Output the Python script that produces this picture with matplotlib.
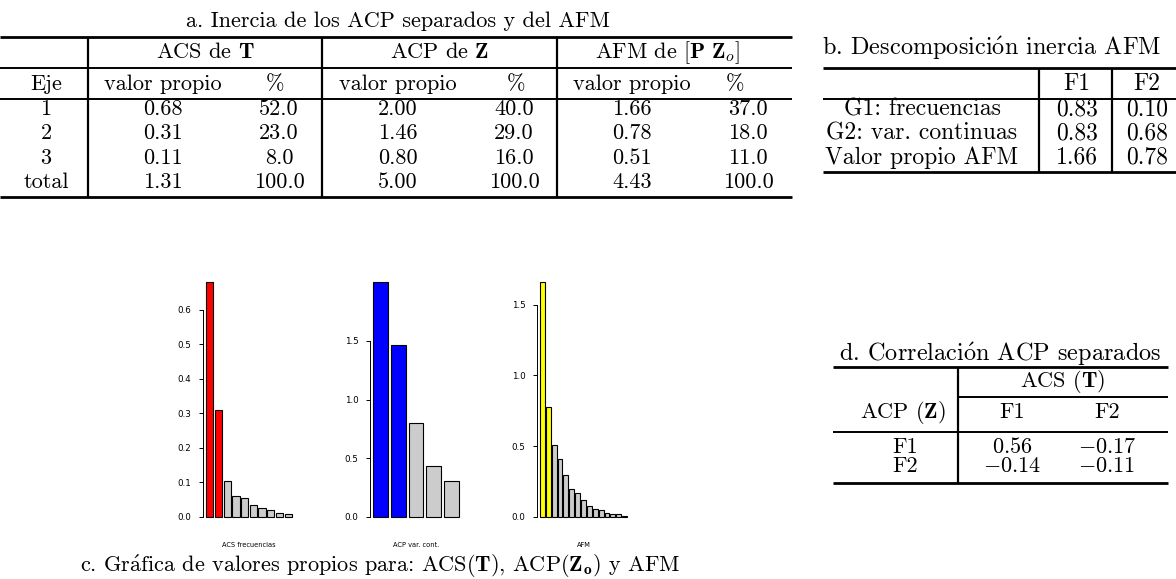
import numpy as np
import matplotlib.pyplot as plt

plt.rcParams['font.family'] = ['cmr10', 'DejaVu Serif']
plt.rcParams['mathtext.fontset'] = 'cm'
plt.rcParams['axes.unicode_minus'] = False

# a. inercia de los ACP separados y del AFM
ejes = ['1', '2', '3', 'total']
acs_vp = [0.68, 0.31, 0.11, 1.31]
acs_pct = [52.0, 23.0, 8.0, 100.0]
acp_vp = [2.00, 1.46, 0.80, 5.00]
acp_pct = [40.0, 29.0, 16.0, 100.0]
afm_vp = [1.66, 0.78, 0.51, 4.43]
afm_pct = [37.0, 18.0, 11.0, 100.0]

# b. descomposicion inercia AFM
grupos = ['G1: frecuencias', 'G2: var. continuas', 'Valor propio AFM']
desc_f1 = [0.83, 0.83, 1.66]
desc_f2 = [0.10, 0.68, 0.78]

# d. correlacion ACP separados
corr_filas = ['F1', 'F2']
corr_f1 = [0.56, -0.14]
corr_f2 = [-0.17, -0.11]

# c. valores propios
vp_acs = [0.68, 0.31, 0.105, 0.06, 0.055, 0.036, 0.025, 0.02, 0.013, 0.008]
vp_acp = [2.00, 1.46, 0.80, 0.43, 0.31]
vp_afm = [1.66, 0.78, 0.51, 0.41, 0.30, 0.20, 0.17, 0.12, 0.08, 0.06,
          0.05, 0.03, 0.02, 0.02, 0.01]
titulos_bar = ['ACS frecuencias', 'ACP var. cont.', 'AFM']
colores_bar = ['#FF0000', '#0000FF', '#FFFF00']
ticks_bar = [[0.0, 0.1, 0.2, 0.3, 0.4, 0.5, 0.6],
             [0.0, 0.5, 1.0, 1.5],
             [0.0, 0.5, 1.0, 1.5]]

# acentos via mathtext (cmr10 no los trae)
A_ACUTE = r'$\mathrm{\acute{a}}$'
O_ACUTE = r'$\mathrm{\acute{o}}$'

W, H = 1176, 579
fig = plt.figure(figsize=(W / 100, H / 100), dpi=100)
canvas = fig.add_axes([0, 0, 1, 1])
canvas.set_xlim(0, W)
canvas.set_ylim(H, 0)
canvas.axis('off')

FS = 16
FS_B = 17
FS_TIT = 17.5
THICK = 2.0
THIN = 1.4


def hline(x0, x1, y, lw=THIN):
    canvas.plot([x0, x1], [y, y], color='black', lw=lw, solid_capstyle='butt')


def vline(x, y0, y1, lw=1.6):
    canvas.plot([x, x], [y0, y1], color='black', lw=lw, solid_capstyle='butt')


def txt(x, y, s, size=FS, ha='center'):
    canvas.text(x, y, s, fontsize=size, ha=ha, va='baseline')


# ---- tabla a ----
txt(398, 27, 'a. Inercia de los ACP separados y del AFM')
hline(0, 792, 37, THICK)
hline(0, 792, 68)
hline(0, 792, 99)
hline(0, 792, 197, THICK)
for xv in [88, 322, 557]:
    vline(xv, 37, 197)

txt(205, 58, r'ACS de $\mathbf{T}$')
txt(440, 58, r'ACP de $\mathbf{Z}$')
txt(668, 58, r'AFM de $[\mathbf{P}\ \mathbf{Z}_o]$')
txt(46, 90, 'Eje')
vp_x = [163, 398, 632]
pct_hx = [275, 516, 735]
pct_x = [279, 514, 748]
for k in range(3):
    txt(vp_x[k], 90, 'valor propio')
    txt(pct_hx[k], 90, '%')

row_y = [115, 139, 164, 188]
for vals, pcts, k in [(acs_vp, acs_pct, 0), (acp_vp, acp_pct, 1), (afm_vp, afm_pct, 2)]:
    for i in range(4):
        txt(vp_x[k], row_y[i], f'{vals[i]:.2f}')
        txt(pct_x[k], row_y[i], f'{pcts[i]:.1f}')
for i in range(4):
    txt(46, row_y[i], ejes[i])

# ---- tabla b ----
txt(992, 55, 'b. Descomposici' + O_ACUTE + 'n inercia AFM', size=FS_TIT)
hline(823, W, 68, THICK)
hline(823, W, 99)
hline(823, W, 172, THICK)
vline(1039, 68, 172)
vline(1112, 68, 172)
txt(1077, 90, 'F1', size=FS_B)
txt(1147, 90, 'F2', size=FS_B)
for i in range(3):
    txt(922, row_y[i], grupos[i], size=FS_B)
    txt(1077, row_y[i], f'{desc_f1[i]:.2f}', size=FS_B)
    txt(1147, row_y[i], f'{desc_f2[i]:.2f}', size=FS_B)

# ---- tabla d ----
txt(1000, 361, 'd. Correlaci' + O_ACUTE + 'n ACP separados', size=FS_TIT)
hline(833, 1168, 367, THICK)
hline(958, 1168, 397)
hline(833, 1168, 432)
hline(833, 1168, 483, THICK)
vline(958, 367, 483)
txt(1062, 387, r'ACS ($\mathbf{T}$)')
txt(903, 418, r'ACP ($\mathbf{Z}$)')
txt(1012, 418, 'F1')
txt(1107, 418, 'F2')
corr_y = [453, 472]


def num(v):
    return f'${v:.2f}$'


for i in range(2):
    txt(905, corr_y[i], corr_filas[i])
    txt(1012, corr_y[i], num(corr_f1[i]))
    txt(1107, corr_y[i], num(corr_f2[i]))

# ---- c. graficas de valores propios ----
zona_px = [(202.6, 295.4), (369.6, 462.4), (536.5, 630.5)]
y0_px, y1_px = 517, 282
for vals, color, ticks, (xa, xb), titulo in zip(
        [vp_acs, vp_acp, vp_afm], colores_bar, ticks_bar, zona_px, titulos_bar):
    ax = fig.add_axes([xa / W, (H - y0_px) / H, (xb - xa) / W, (y0_px - y1_px) / H])
    n = len(vals)
    lefts = 0.2 + 1.2 * np.arange(n)
    cols = [color] * 2 + ['#CCCCCC'] * (n - 2)
    ax.bar(lefts, vals, width=1.0, align='edge', color=cols,
           edgecolor='black', linewidth=0.8, clip_on=False)
    span = lefts[-1] + 1.0 - 0.2
    ax.set_xlim(0.2 - 0.04 * span, lefts[-1] + 1.0 + 0.04 * span)
    ax.set_ylim(0, max(vals))
    ax.patch.set_alpha(0)
    for s in ['top', 'right', 'bottom']:
        ax.spines[s].set_visible(False)
    ax.spines['left'].set_bounds(ticks[0], ticks[-1])
    ax.spines['left'].set_linewidth(0.7)
    ax.set_xticks([])
    ax.set_yticks(ticks)
    ax.set_yticklabels([f'{t:.1f}' for t in ticks], family='DejaVu Sans', fontsize=6.3)
    ax.tick_params(axis='y', length=3, width=0.7, pad=5)
    canvas.text((xa + xb) / 2, 545, titulo, family='DejaVu Sans', fontsize=4.8,
                ha='center', va='center')

txt(380, 572, 'c. Gr' + A_ACUTE + r'fica de valores propios para: ACS($\mathbf{T}$), '
              r'ACP($\mathbf{Z_o}$) y AFM')

fig.savefig('out.png', dpi=100)
